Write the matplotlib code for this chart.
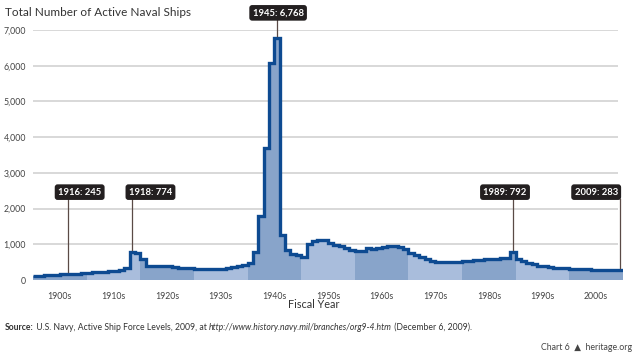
import matplotlib
matplotlib.use("Agg")
import matplotlib.pyplot as plt
import numpy as np

# fiscal years and active ship counts
years = list(range(1900, 2010))
ships = [
    120, 125, 135, 140, 150, 155, 165, 170, 175, 185,      # 1900s
    210, 215, 220, 230, 250, 260, 275, 342, 774, 752,      # 1910s
    590, 390, 380, 385, 385, 380, 360, 350, 345, 345,      # 1920s
    320, 315, 310, 310, 315, 320, 330, 360, 390, 420,      # 1930s
    478, 790, 1782, 3700, 6084, 6768, 1248, 842, 737, 690,  # 1940s
    634, 1000, 1097, 1130, 1110, 1030, 970, 960, 890, 850,  # 1950s
    812, 819, 910, 880, 885, 920, 950, 955, 930, 870,      # 1960s
    769, 702, 654, 590, 534, 510, 500, 500, 505, 510,      # 1970s
    520, 540, 550, 570, 575, 580, 600, 610, 620, 792,      # 1980s
    590, 529, 480, 450, 400, 385, 360, 350, 335, 325,      # 1990s
    318, 316, 305, 297, 291, 285, 281, 279, 280, 283,      # 2000s
]
decade_labels = ["1900s", "1910s", "1920s", "1930s", "1940s", "1950s",
                 "1960s", "1970s", "1980s", "1990s", "2000s"]
yticks = [0, 1000, 2000, 3000, 4000, 5000, 6000, 7000]

# callouts: where the pointer sits, label text, box centre year
ann_x = [1906, 1918, 1945, 1989, 2009]
ann_text = ["1916: 245", "1918: 774", "1945: 6,768", "1989: 792", "2009: 283"]
ann_box_x = [1908.2, 1921.4, 1945.2, 1987.5, 2004.5]
ann_box_y = [2460, 2460, 7480, 2460, 2460]

line_col = "#0d4a91"
dark_band = "#88a4ca"
light_band = "#a9bddc"
text_col = "#444444"

plt.rcParams["font.family"] = ["Lato", "DejaVu Sans"]

fig = plt.figure(figsize=(6.4, 3.54), dpi=100)
ax = fig.add_axes([33 / 640, 1 - 280 / 354, 590 / 640, 250 / 354])

yrs = np.array(years)
vals = np.array(ships)
edges = np.append(yrs - 0.5, yrs[-1] + 0.5)

# light grid behind everything
ax.hlines(yticks[1:], 1899.5, 2008.6, color="#d2d2d2", lw=1.2, zorder=0)

# decade bands under the curve
for i, lab in enumerate(decade_labels):
    m = (yrs >= 1900 + 10 * i) & (yrs < 1910 + 10 * i)
    e = np.append(yrs[m] - 0.5, yrs[m][-1] + 0.5)
    ax.stairs(vals[m], e, fill=True, color=dark_band if i % 2 == 0 else light_band,
              lw=0, zorder=1)
    ax.text(1904.5 + 10 * i, -330, lab, ha="center", va="top", fontsize=6.3,
            color=text_col)

ax.stairs(vals, edges, baseline=None, color=line_col, lw=2.4, zorder=3)

# callouts
for x, t, bx, by in zip(ann_x, ann_text, ann_box_x, ann_box_y):
    v = vals[yrs == x][0]
    ax.plot([x, x], [v + 60, by - 200], color="#5a4a46", lw=0.9, zorder=4,
            clip_on=False)
    ax.text(bx, by, t, ha="center", va="center", fontsize=6.8, fontweight="bold",
            color="white", zorder=5, clip_on=False,
            bbox=dict(boxstyle="round,pad=0.35,rounding_size=0.3",
                      fc="#231f20", ec="none"))

ax.set_xlim(1899.5, 2009.5)
ax.set_ylim(0, 7000)
ax.set_yticks(yticks)
ax.set_yticklabels([f"{t:,}" for t in yticks], fontsize=6.3, color=text_col)
ax.set_xticks([])
ax.tick_params(axis="y", length=0, pad=5)
for s in ax.spines.values():
    s.set_visible(False)

fig.text(5 / 640, 1 - 12 / 354, "Total Number of Active Naval Ships",
         fontsize=8.5, color="#333333", va="center")
fig.text(314 / 640, 1 - 305 / 354, "Fiscal Year", fontsize=7.8,
         color="#333333", ha="center", va="center")

# source line built from pieces
renderer = fig.canvas.get_renderer()
pieces = [("Source:", "bold", "normal"),
          (" U.S. Navy, Active Ship Force Levels, 2009, at ", "normal", "normal"),
          ("http://www.history.navy.mil/branches/org9-4.htm", "normal", "italic"),
          (" (December 6, 2009).", "normal", "normal")]
xpix = 5
for txt, w, st in pieces:
    t = fig.text(xpix / 640, 1 - 327 / 354, txt, fontsize=6.2, fontweight=w,
                 fontstyle=st, color="#333333", va="center")
    xpix += t.get_window_extent(renderer).width

fig.text(632 / 640, 1 - 348 / 354, "Chart 6  \u25B2  heritage.org", fontsize=6.3,
         color="#444444", ha="right", va="center")

fig.savefig("out.png", dpi=100)
